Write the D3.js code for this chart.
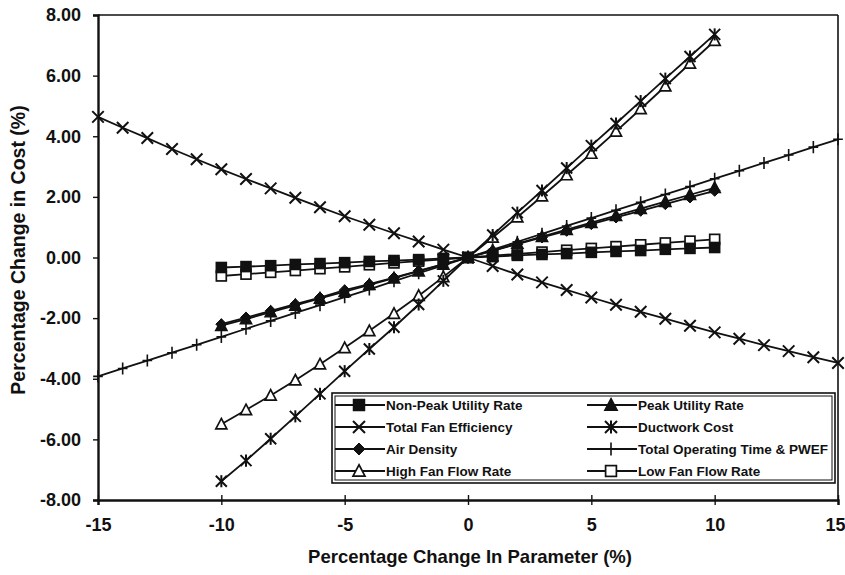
<!DOCTYPE html>
<html>
<head>
<meta charset="utf-8">
<script src="https://cdn.jsdelivr.net/npm/d3@7"></script>
<style>
  html, body { margin: 0; padding: 0; background: #ffffff; }
  svg { display: block; }
  text { font-family: "Liberation Sans", Arial, Helvetica, sans-serif; font-weight: bold; fill: #111; }
</style>
</head>
<body>
<svg id="chart" width="845" height="575"></svg>
<script>
// ---------------- data ----------------
const xShort = [-10,-9,-8,-7,-6,-5,-4,-3,-2,-1,0,1,2,3,4,5,6,7,8,9,10];
const xLong  = [-15,-14,-13,-12,-11,-10,-9,-8,-7,-6,-5,-4,-3,-2,-1,0,1,2,3,4,5,6,7,8,9,10,11,12,13,14,15];

const nonPeakUtility = [-0.33,-0.30,-0.27,-0.23,-0.20,-0.17,-0.13,-0.10,-0.07,-0.03,0,0.03,0.07,0.10,0.13,0.17,0.20,0.23,0.27,0.30,0.33];
const peakUtility    = [-2.25,-2.03,-1.80,-1.58,-1.35,-1.13,-0.90,-0.68,-0.45,-0.23,0,0.23,0.46,0.69,0.92,1.15,1.38,1.61,1.84,2.07,2.30];
const airDensity     = [-2.20,-1.98,-1.76,-1.54,-1.32,-1.08,-0.88,-0.66,-0.44,-0.22,0,0.22,0.44,0.66,0.88,1.10,1.32,1.54,1.76,1.98,2.20];
const ductworkCost   = [-7.38,-6.70,-5.98,-5.24,-4.50,-3.75,-3.02,-2.30,-1.55,-0.77,0,0.74,1.48,2.21,2.95,3.69,4.42,5.16,5.90,6.63,7.36];
const highFanFlow    = [-5.50,-5.03,-4.55,-4.05,-3.52,-2.98,-2.42,-1.85,-1.26,-0.64,0,0.66,1.33,2.02,2.72,3.43,4.16,4.90,5.65,6.40,7.15];
const lowFanFlow     = [-0.61,-0.55,-0.49,-0.43,-0.37,-0.31,-0.24,-0.18,-0.12,-0.06,0,0.06,0.12,0.18,0.24,0.30,0.36,0.42,0.48,0.54,0.60];
const totalFanEff    = [4.64,4.28,3.94,3.58,3.24,2.91,2.59,2.28,1.97,1.66,1.36,1.08,0.80,0.53,0.26,0,-0.28,-0.56,-0.82,-1.07,-1.32,-1.56,-1.79,-2.02,-2.25,-2.47,-2.68,-2.89,-3.09,-3.29,-3.48];
const totalOpTime    = [-3.92,-3.66,-3.40,-3.14,-2.88,-2.62,-2.35,-2.09,-1.83,-1.57,-1.31,-1.05,-0.78,-0.52,-0.26,0,0.26,0.52,0.78,1.04,1.30,1.56,1.82,2.08,2.34,2.60,2.86,3.12,3.38,3.64,3.90];

const xTicks = [-15,-10,-5,0,5,10,15];
const yTicks = [-8,-6,-4,-2,0,2,4,6,8];

const seriesNames = ["Non-Peak Utility Rate","Peak Utility Rate","Total Fan Efficiency","Ductwork Cost",
                     "Air Density","Total Operating Time & PWEF","High Fan Flow Rate","Low Fan Flow Rate"];
const seriesMarkers = ["squareFilled","triangleFilled","x","asterisk","diamond","plus","triangleOpen","squareOpen"];

const xTitle = "Percentage Change In Parameter (%)";
const yTitle = "Percentage Change in Cost (%)";

// ---------------- build ----------------
const series = [
  {name: seriesNames[0], marker: seriesMarkers[0], xs: xShort, ys: nonPeakUtility},
  {name: seriesNames[1], marker: seriesMarkers[1], xs: xShort, ys: peakUtility},
  {name: seriesNames[2], marker: seriesMarkers[2], xs: xLong,  ys: totalFanEff},
  {name: seriesNames[3], marker: seriesMarkers[3], xs: xShort, ys: ductworkCost},
  {name: seriesNames[4], marker: seriesMarkers[4], xs: xShort, ys: airDensity},
  {name: seriesNames[5], marker: seriesMarkers[5], xs: xLong,  ys: totalOpTime},
  {name: seriesNames[6], marker: seriesMarkers[6], xs: xShort, ys: highFanFlow},
  {name: seriesNames[7], marker: seriesMarkers[7], xs: xShort, ys: lowFanFlow}
];

const ink = "#111";
const svg = d3.select("#chart");
const L = 98, R = 838, T = 15, B = 500;
const x = d3.scaleLinear().domain([-15, 15]).range([L, R]);
const y = d3.scaleLinear().domain([-8, 8]).range([B, T]);

// frame (top & right)
svg.append("line").attr("x1", L).attr("x2", R).attr("y1", T).attr("y2", T).attr("stroke", ink).attr("stroke-width", 1.6);
svg.append("line").attr("x1", R).attr("x2", R).attr("y1", T).attr("y2", B).attr("stroke", ink).attr("stroke-width", 1.6);

// axes
const xAxis = d3.axisBottom(x).tickValues(xTicks).tickSize(5).tickFormat(d => String(d));
const gx = svg.append("g").attr("transform", `translate(0,${B})`).call(xAxis);
gx.select(".domain").attr("stroke", ink).attr("stroke-width", 2.4);
gx.selectAll(".tick line").attr("stroke", ink).attr("stroke-width", 1.4).attr("y1", -5).attr("y2", 5);
gx.selectAll(".tick text").attr("y", 18).attr("dy", "0.71em").style("font-size", "18px").style("font-family", "Liberation Sans, Arial, sans-serif").style("font-weight", "bold").attr("fill", ink)
  .attr("text-anchor", d => d === 15 ? "end" : "middle").attr("dx", d => d === 15 ? 7 : 0);

const yAxis = d3.axisLeft(y).tickValues(yTicks).tickSize(5).tickFormat(d => d.toFixed(2));
const gy = svg.append("g").attr("transform", `translate(${L},0)`).call(yAxis);
gy.select(".domain").attr("stroke", ink).attr("stroke-width", 2.4);
gy.selectAll(".tick line").attr("stroke", ink).attr("stroke-width", 1.4);
gy.selectAll(".tick text").attr("x", -17).style("font-size", "18px").style("font-family", "Liberation Sans, Arial, sans-serif").style("font-weight", "bold").attr("fill", ink);

// titles
svg.append("text").attr("x", 470).attr("y", 563).attr("text-anchor", "middle").style("font-size", "18.5px").text(xTitle);
svg.append("text").attr("transform", "translate(25,250) rotate(-90)").attr("text-anchor", "middle").style("font-size", "19.5px").text(yTitle);

// marker drawing
function drawMarker(g, type, cx, cy, s) {
  const sw = 1.7;
  if (type === "squareFilled" || type === "squareOpen") {
    g.append("rect").attr("x", cx - s*0.45).attr("y", cy - s*0.45).attr("width", s*0.9).attr("height", s*0.9)
      .attr("fill", type === "squareFilled" ? ink : "#fff").attr("stroke", ink).attr("stroke-width", sw);
  } else if (type === "triangleFilled" || type === "triangleOpen") {
    const h = s * 0.95, w = s * 1.0;
    g.append("path").attr("d", `M${cx},${cy - h*0.55}L${cx + w/2},${cy + h*0.45}L${cx - w/2},${cy + h*0.45}Z`)
      .attr("fill", type === "triangleFilled" ? ink : "#fff").attr("stroke", ink).attr("stroke-width", sw);
  } else if (type === "diamond") {
    const r = s * 0.5;
    g.append("path").attr("d", `M${cx},${cy - r}L${cx + r},${cy}L${cx},${cy + r}L${cx - r},${cy}Z`).attr("fill", ink).attr("stroke", ink).attr("stroke-width", 1);
  } else if (type === "x" || type === "asterisk") {
    const r = s * 0.5;
    g.append("path").attr("d", `M${cx - r},${cy - r}L${cx + r},${cy + r}M${cx - r},${cy + r}L${cx + r},${cy - r}`)
      .attr("stroke", ink).attr("stroke-width", 2).attr("fill", "none");
    if (type === "asterisk") {
      g.append("path").attr("d", `M${cx},${cy - r*1.1}L${cx},${cy + r*1.1}`).attr("stroke", ink).attr("stroke-width", 2);
    }
  } else if (type === "plus") {
    const r = s * 0.55;
    g.append("path").attr("d", `M${cx},${cy - r}L${cx},${cy + r}M${cx - r*0.8},${cy}L${cx + r*0.8},${cy}`).attr("stroke", ink).attr("stroke-width", 1.6);
  }
}

// draw series (reverse legend order so filled markers sit on top)
const plotG = svg.append("g");
const line = d3.line().x(d => x(d[0])).y(d => y(d[1]));
series.slice().reverse().forEach(s => {
  const pts = s.xs.map((v, i) => [v, s.ys[i]]);
  const g = plotG.append("g");
  g.append("path").attr("d", line(pts)).attr("fill", "none").attr("stroke", ink).attr("stroke-width", 1.8);
  const sz = s.marker === "x" ? 11.5 : 11;
  pts.forEach(p => drawMarker(g, s.marker, x(p[0]), y(p[1]), sz));
});

// legend
const lg = svg.append("g");
lg.append("rect").attr("x", 332).attr("y", 393).attr("width", 503).attr("height", 90).attr("fill", "#fff").attr("stroke", ink).attr("stroke-width", 1.6);
lg.append("rect").attr("x", 335).attr("y", 396).attr("width", 497).attr("height", 84).attr("fill", "none").attr("stroke", ink).attr("stroke-width", 1);
const rowY = [405, 427, 449, 471];
const colX = [335, 587];
series.forEach((s, i) => {
  const cx0 = colX[i % 2], cy = rowY[Math.floor(i / 2)];
  const g = lg.append("g");
  g.append("line").attr("x1", cx0).attr("x2", cx0 + 50).attr("y1", cy).attr("y2", cy).attr("stroke", ink).attr("stroke-width", 2);
  drawMarker(g, s.marker, cx0 + 24, cy, 12);
  g.append("text").attr("x", cx0 + 51).attr("y", cy).attr("dy", "0.36em").style("font-size", "13.5px").text(s.name);
});
</script>
</body>
</html>
